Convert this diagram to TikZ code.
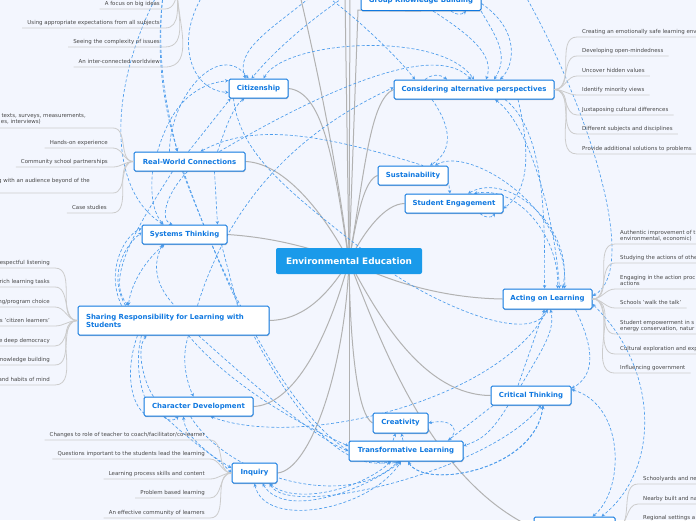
\documentclass[tikz,border=0pt]{standalone}
\usepackage{fontspec}
\setmainfont{DejaVu Sans}
\usetikzlibrary{arrows.meta,shadows,backgrounds}

\definecolor{paper}{HTML}{F3F6FE}
\definecolor{topicblue}{HTML}{0F78E0}
\definecolor{hubblue}{HTML}{1A9AEA}
\definecolor{linkblue}{HTML}{4C9CEC}

\tikzset{
  topic/.style={draw=topicblue, line width=1pt, fill=white, rounded corners=1.5pt, text=topicblue,
    font=\fontsize{6.95}{7.9}\selectfont\bfseries, inner sep=0pt,
    drop shadow={shadow xshift=.4pt, shadow yshift=-1.2pt, opacity=.4}},
  hub/.style={fill=hubblue, rounded corners=2pt, text=white, font=\fontsize{8.9}{10}\selectfont\bfseries},
  leaf/.style={text=black!72, font=\fontsize{5.45}{6.2}\selectfont, inner xsep=5pt, inner ysep=2.4pt,
    text height=3.8pt, text depth=1pt},
  twig/.style={draw=black!20, line width=.8pt},
  branch/.style={draw=black!30, line width=1pt},
  link/.style={draw=linkblue, line width=.65pt, dash pattern=on 3pt off 2pt,
    >={Stealth[length=3.4pt,width=3.4pt]}}
}

\newcommand{\leftleaf}[5][180]{
  \node[leaf, anchor=south east] (#2) at (#3) {#4};
  \draw[twig] (#2.south west) -- (#2.south east) to[out=0, in=#1] (#5);
}
\newcommand{\rightleaf}[4]{
  \node[leaf, anchor=south west, align=left] (#1) at (#2) {#3};
  \draw[twig] (#1.south east) -- (#1.south west) to[out=180, in=0] (#4);
}

\begin{document}
\begin{tikzpicture}[x=1pt, y=-1pt]
  \useasboundingbox (0,0) rectangle (696,520);

  \coordinate (topleaves) at (177,-12);
  \coordinate (topb) at (163,-5);
  \coordinate (topc) at (157,-5);
  \coordinate (topd) at (203,-5);
  \coordinate (tope) at (313,-5);
  \coordinate (topf) at (347,-5);
  \coordinate (topg) at (325,-5);
  \coordinate (toph) at (300,-5);
  \coordinate (topi) at (525,-5);
  \coordinate (topj) at (350,-5);
  \coordinate (topk) at (345,-5);

  \node[hub, minimum width=146pt, minimum height=26pt, inner sep=0pt] (env) at (349,261) {Environmental Education};

  \node[topic, minimum width=120pt, minimum height=20pt] (gkb) at (421,0.5) {Group Knowledge Building};
  \node[topic, minimum width=59pt, minimum height=19pt] (cit) at (258.5,88.5) {Citizenship};
  \node[topic, minimum width=160pt, minimum height=19pt] (alt) at (474,89.5) {Considering alternative perspectives};
  \node[topic, minimum width=111pt, minimum height=19pt] (rw) at (189.5,161.5) {Real-World Connections};
  \node[topic, minimum width=70pt, minimum height=19pt] (sus) at (413,175.5) {Sustainability};
  \node[topic, minimum width=98pt, minimum height=19pt] (eng) at (454,203.5) {Student Engagement};
  \node[topic, minimum width=85pt, minimum height=19pt] (sys) at (184.5,234.5) {Systems Thinking};
  \node[topic, minimum width=89pt, minimum height=20pt] (act) at (547.5,299) {Acting on Learning};
  \node[topic, minimum width=191pt, minimum height=29pt, text width=175pt, align=left] (shr) at (173.5,320.5) {Sharing Responsibility for Learning with Students};
  \node[topic, minimum width=109pt, minimum height=19pt] (chr) at (198.5,406.5) {Character Development};
  \node[topic, minimum width=80pt, minimum height=19pt] (crit) at (531,395.5) {Critical Thinking};
  \node[topic, minimum width=55pt, minimum height=20pt] (cre) at (400.5,423) {Creativity};
  \node[topic, minimum width=114pt, minimum height=20pt] (trf) at (406,451) {Transformative Learning};
  \node[topic, minimum width=45pt, minimum height=20pt] (inq) at (254.5,473) {Inquiry};
  \node[topic, minimum width=81pt, minimum height=22pt] (loc) at (574.5,528) {};

  % top left
  \leftleaf[270]{big}{165,9}{A focus on big ideas}{topleaves}
  \leftleaf[270]{expc}{165,28}{Using appropriate expectations from all subjects}{topleaves}
  \leftleaf[270]{cplx}{165,47}{Seeing the complexity of issues}{topleaves}
  \leftleaf[270]{view}{165,67}{An inter-connected worldview}{topleaves}

  % real-world
  \node[leaf, anchor=east, inner ysep=0pt] (rwa) at (91,116) {texts, surveys, measurements,};
  \node[leaf, anchor=east, inner ysep=0pt] (rwb) at (46,122) {es, interviews)};
  \draw[twig] (0,128) -- (113,128) to[out=0, in=180] (rw.west);
  \leftleaf{hand}{113,148}{Hands-on experience}{rw.west}
  \leftleaf{comm}{113,167}{Community school partnerships}{rw.west}
  \node[leaf, anchor=east, inner ysep=0pt] (aud) at (95,181) {g with an audience beyond of the};
  \draw[twig] (0,193) -- (113,193) to[out=0, in=180] (rw.west);
  \leftleaf{case}{112,213}{Case studies}{rw.west}

  % sharing
  \leftleaf{shra}{55,268}{espectful listening}{shr.west}
  \leftleaf{shrb}{55,287}{rich learning tasks}{shr.west}
  \leftleaf{shrc}{55,307}{ng/program choice}{shr.west}
  \leftleaf{shrd}{55,326}{s 'citizen learners'}{shr.west}
  \leftleaf{shre}{55,346}{e deep democracy}{shr.west}
  \leftleaf{shrf}{55,365}{nowledge building}{shr.west}
  \leftleaf{shrg}{55,385}{and habits of mind}{shr.west}

  % inquiry
  \leftleaf{inqa}{210,440}{Changes to role of teacher to coach/facilitator/co-learner}{inq.west}
  \leftleaf{inqb}{210,459}{Questions important to the students lead the learning}{inq.west}
  \leftleaf{inqc}{210,479}{Learning process skills and content}{inq.west}
  \leftleaf{inqd}{210,498}{Problem based learning}{inq.west}
  \leftleaf{inqe}{210,518}{An effective community of learners}{inq.west}

  % alternative perspectives
  \rightleaf{alta}{577,37}{Creating an emotionally safe learning env}{alt.east}
  \rightleaf{altb}{577,56}{Developing open-mindedness}{alt.east}
  \rightleaf{altc}{577,76}{Uncover hidden values}{alt.east}
  \rightleaf{altd}{577,95}{Identify minority views}{alt.east}
  \rightleaf{alte}{577,115}{Juxtaposing cultural differences}{alt.east}
  \rightleaf{altf}{577,134}{Different subjects and disciplines}{alt.east}
  \rightleaf{altg}{577,154}{Provide additional solutions to problems}{alt.east}

  % acting
  \rightleaf{acta}{615,244}{Authentic improvement of t\\environmental, economic)}{act.east}
  \rightleaf{actb}{615,263}{Studying the actions of othe}{act.east}
  \rightleaf{actc}{615,289}{Engaging in the action proc\\actions}{act.east}
  \rightleaf{actd}{615,308}{Schools 'walk the talk'}{act.east}
  \rightleaf{acte}{615,334}{Student empowerment in s\\energy conservation, natur}{act.east}
  \rightleaf{actf}{615,354}{Cultural exploration and exp}{act.east}
  \rightleaf{actg}{615,373}{Influencing government}{act.east}

  % places
  \rightleaf{loca}{638,484}{Schoolyards and ne}{loc.east}
  \rightleaf{locb}{638,504}{Nearby built and na}{loc.east}
  \rightleaf{locc}{638,523}{Regional settings a}{loc.east}

  \begin{pgfonlayer}{background}
    \fill[paper] (0,0) rectangle (696,520);

    % main branches
    \draw[branch] (env.center) .. controls (335,170) and (325,92) .. (cit.east);
    \draw[branch] (env.center) .. controls (325,215) and (285,163) .. (rw.east);
    \draw[branch] (env.center) .. controls (315,250) and (280,238) .. (sys.east);
    \draw[branch] (env.center) .. controls (335,150) and (315,60) .. (toph);
    \draw[branch] (env.center) -- (topj);
    \draw[branch] (env.center) -- (topk);
    \draw[branch] (env.center) -- (358,10) -- (gkb.south);
    \draw[branch] (env.center) .. controls (365,170) and (370,100) .. (alt.west);
    \draw[branch] (env.center) .. controls (358,210) and (365,180) .. (sus.west);
    \draw[branch] (env.center) .. controls (365,230) and (385,204) .. (eng.west);
    \draw[branch] (env.center) .. controls (385,280) and (440,298) .. (act.west);
    \draw[branch] (env.center) .. controls (380,320) and (425,395) .. (crit.west);
    \draw[branch] (env.center) .. controls (325,300) and (300,320) .. (shr.east);
    \draw[branch] (env.center) .. controls (325,350) and (290,405) .. (chr.east);
    \draw[branch] (env.center) .. controls (345,370) and (310,470) .. (inq.east);
    \draw[branch] (env.center) .. controls (350,350) and (358,415) .. (cre.west);
    \draw[branch] (env.center) -- (349,451) -- (trf.west);
    \draw[branch] (env.center) .. controls (380,340) and (430,480) .. (loc.west);

    % links from above
    \draw[link,->] (topb) .. controls (155,60) and (165,110) .. ([xshift=-12]rw.north);
    \draw[link,->] (topb) .. controls (156,60) and (167,110) .. ([xshift=-12]rw.north);
    \draw[link,->] (topc) .. controls (108,90) and (108,190) .. ([xshift=-21]sys.north);
    \draw[link,->] (topd) .. controls (175,40) and (190,90) .. ([yshift=-4]cit.west);
    \draw[link,->] (tope) .. controls (270,30) and (235,50) .. ([xshift=-13]cit.north);
    \draw[link,->] (topf) .. controls (310,20) and (275,50) .. ([xshift=-7]cit.north);
    \draw[link,<->] ([xshift=5]cit.north) .. controls (285,40) and (440,30) .. (alt.north);
    \draw[link,->] ([xshift=30]rw.north) .. controls (290,110) and (430,35) .. ([xshift=-3]alt.north);
    \draw[link,->] ([xshift=24]shr.north) .. controls (230,200) and (300,130) .. ([yshift=2]alt.west);
    \draw[link,->] (topg) .. controls (360,20) and (400,60) .. ([xshift=-59]alt.north);
    \draw[link,->] ([xshift=-49]alt.north) .. controls (432,74) and (440,74) .. ([xshift=-27]alt.north);

    % around the upper right
    \draw[link,->] ([xshift=12]gkb.south) .. controls (470,35) and (495,55) .. ([xshift=12]alt.north);
    \draw[link,->] ([yshift=-3]gkb.east) .. controls (520,30) and (515,65) .. ([xshift=26]alt.north);
    \draw[link,->] ([xshift=60]gkb.south) .. controls (495,35) and (510,55) .. ([xshift=20]alt.north);
    \draw[link,->] ([xshift=30]gkb.south) .. controls (455,15) and (462,15) .. ([xshift=45]gkb.south);
    \draw[link,->] ([xshift=-42]alt.south) .. controls (450,125) and (455,150) .. ([xshift=17]sus.north);
    \draw[link,<-] ([xshift=11]rw.north) .. controls (250,125) and (310,130) .. ([xshift=10]sus.north);
    \draw[link,<->] ([xshift=22]sus.north) .. controls (470,145) and (570,210) .. ([xshift=17]act.north);
    \draw[link,->] ([xshift=36]sus.south) -- ([xshift=-4]eng.north);
    \draw[link,<->] ([xshift=14]eng.north) .. controls (510,170) and (575,230) .. ([xshift=15]act.north);
    \draw[link,<->] ([xshift=20]eng.north) .. controls (520,185) and (560,240) .. ([xshift=10]act.north);
    \draw[link,->] ([xshift=44]alt.south) .. controls (530,150) and (530,190) .. ([yshift=-5]eng.east);
    \draw[link,->] ([xshift=26]eng.south) .. controls (484,218) and (492,218) .. ([xshift=41]eng.south);
    \draw[link,<->] ([xshift=21]alt.south) .. controls (530,125) and (555,220) .. ([xshift=12]act.north);
    \draw[link,->] ([xshift=31]alt.south) .. controls (545,130) and (545,220) .. ([xshift=-3]act.north);
    \draw[link,->] (topi) .. controls (590,110) and (640,270) .. ([yshift=3]act.east);
    \draw[link,<->] ([yshift=-5]act.east) .. controls (660,370) and (660,470) .. ([xshift=27]loc.north);
    \draw[link,->] ([xshift=28]act.south) .. controls (595,350) and (595,375) .. ([yshift=7]crit.east);
    \draw[link,<->] ([yshift=6]crit.east) .. controls (625,405) and (625,490) .. ([xshift=18]loc.north);
    \draw[link,->] ([xshift=-13]crit.north) -- ([xshift=-3]act.south);
    \draw[link,->] ([xshift=-10]crit.north) .. controls (545,345) and (555,330) .. ([xshift=3]act.south);
    \draw[link,<->] ([xshift=12]chr.south) .. controls (300,450) and (500,400) .. (act.south);
    \draw[link,->] ([xshift=-25]cit.south) .. controls (240,160) and (300,200) .. (395,275) .. controls (440,305) and (530,345) .. (act.south);

    % lower right
    \draw[link,->] ([xshift=-38]crit.south) -- ([xshift=42]trf.north);
    \draw[link,->] ([xshift=-23]crit.south) .. controls (490,435) and (480,440) .. ([yshift=5]trf.east);
    \draw[link,<-] (cre.east) .. controls (455,418) and (460,432) .. ([xshift=42]trf.north);
    \draw[link,->] ([xshift=-13]trf.north) -- ([xshift=-5]cre.south);
    \draw[link,->] ([xshift=-3]trf.north) -- ([xshift=1]cre.south);
    \draw[link,<->] ([xshift=2]trf.south) .. controls (425,490) and (535,470) .. ([xshift=12]crit.south);
    \draw[link,<->] ([xshift=2]trf.south) .. controls (426,490) and (536,470) .. ([xshift=12]crit.south);
    \draw[link,<->] ([xshift=15]inq.south) .. controls (290,520) and (490,470) .. ([xshift=10]crit.south);
    \draw[link,<->] (inq.south) .. controls (265,530) and (370,510) .. ([xshift=-5]trf.south);
    \draw[link,<->] ([xshift=8]inq.south) .. controls (285,520) and (365,490) .. ([xshift=-5]trf.south);
    \draw[link,<->] ([xshift=15]inq.south) .. controls (295,505) and (360,490) .. ([xshift=-15]trf.south);
    \draw[link,->] ([xshift=-8]chr.south) .. controls (230,480) and (350,510) .. ([xshift=-8]trf.south);

    % long runs to the lower right
    \draw[link,->] ([xshift=25]shr.south) .. controls (270,400) and (320,440) .. (trf.west);
    \draw[link,->] ([xshift=15]shr.south) .. controls (230,385) and (300,425) .. ([yshift=5]trf.west);
    \draw[link,->] ([xshift=-6]rw.south) .. controls (230,300) and (310,480) .. ([xshift=-15]trf.south);
    \draw[link,->] ([xshift=-7]rw.south) .. controls (231,300) and (315,480) .. ([xshift=-5]trf.south);

    % left block
    \draw[link] ([xshift=37]sys.south) -- ([xshift=64]shr.north);
    \draw[link,->] ([xshift=-37]rw.south) .. controls (150,200) and (155,215) .. ([xshift=-21]sys.north);
    \draw[link,->] ([xshift=-2]rw.south) .. controls (165,195) and (160,220) .. ([xshift=-12]sys.north);
    \draw[link,->] ([xshift=25]rw.south) -- ([xshift=33]sys.north);
    \draw[link,->] ([xshift=-17]rw.south) .. controls (135,230) and (105,280) .. ([xshift=-45]shr.north);
    \draw[link,->] ([xshift=-32]rw.north) .. controls (170,110) and (190,85) .. ([yshift=8]cit.west);
    \draw[link,->] ([xshift=-20]rw.north) .. controls (170,95) and (220,40) .. ([xshift=-10]cit.north);
    \draw[link,->] ([xshift=-1]rw.north) -- ([xshift=-28]cit.south);
    \draw[link,->] ([xshift=28]rw.north) .. controls (228,120) and (235,105) .. ([xshift=-14]cit.south);
    \draw[link,->] ([xshift=-52]shr.north) .. controls (105,270) and (125,235) .. ([yshift=6]sys.west);
    \draw[link,->] ([xshift=-48]shr.north) .. controls (110,280) and (120,250) .. ([yshift=2]sys.west);
    \draw[link,<->] ([xshift=-20]sys.south) .. controls (140,265) and (130,290) .. ([xshift=-45]shr.north);
    \draw[link,<-] ([xshift=-22]sys.south) .. controls (150,270) and (160,290) .. ([xshift=1]shr.north);
    \draw[link,->] ([xshift=-36]shr.south) .. controls (125,370) and (130,405) .. ([xshift=-50]chr.south);
    \draw[link,->] ([xshift=-45]chr.north) .. controls (145,385) and (135,350) .. ([xshift=-27]shr.south);
    \draw[link] ([xshift=-32]shr.south) .. controls (135,360) and (140,385) .. ([xshift=-54]chr.north);
    \draw[link,->] ([xshift=15]shr.south) .. controls (180,360) and (188,385) .. ([xshift=-5]chr.north);
    \draw[link,->] ([xshift=-35]chr.south) .. controls (166,421) and (174,421) .. ([xshift=-20]chr.south);
    \draw[link,->] ([xshift=-34]chr.south) .. controls (190,440) and (210,455) .. ([yshift=5]inq.west);
    \draw[link,<->] ([xshift=-15]chr.south) .. controls (185,440) and (215,455) .. (inq.west);
  \end{pgfonlayer}
\end{tikzpicture}
\end{document}
